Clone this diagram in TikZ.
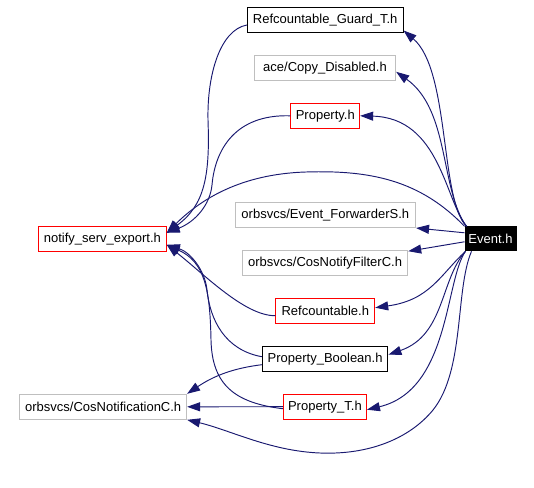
\documentclass[tikz,border=0pt]{standalone}
\usepackage{fontspec}
\setmainfont{Liberation Sans}
\usetikzlibrary{arrows.meta}
\definecolor{edgeblue}{RGB}{25,25,112}
\definecolor{boxgray}{RGB}{191,191,191}
\begin{document}
\begin{tikzpicture}[x=1pt,y=-1pt,
  box/.style={draw,line width=1pt,inner sep=0pt,minimum height=25pt,font=\fontsize{13}{15}\selectfont},
  blackbox/.style={box,draw=black},
  redbox/.style={box,draw=red},
  graybox/.style={box,draw=boxgray},
  focusbox/.style={box,draw=black,fill=black,text=white,minimum height=24pt},
  dep/.style={draw=edgeblue,line width=0.95pt,-{Triangle[length=13pt,width=9pt]}}
]
\useasboundingbox (0,0) rectangle (534,487);

\node[blackbox,minimum width=155.7pt] (RGT) at (325.2,20) {Refcountable\_Guard\_T.h};
\node[graybox,minimum width=141.3pt] (CD) at (325,67.8) {ace/Copy\_Disabled.h};
\node[redbox,minimum width=68.7pt] (P) at (325.3,115.8) {Property.h};
\node[redbox,minimum width=127.7pt] (NSE) at (102.4,238.8) {notify\_serv\_export.h};
\node[graybox,minimum width=180.5pt] (EF) at (325.3,215) {orbsvcs/Event\_ForwarderS.h};
\node[graybox,minimum width=165.2pt] (CNF) at (325.1,262.7) {orbsvcs/CosNotifyFilterC.h};
\node[focusbox,minimum width=51pt] (E) at (490.5,238.8) {Event.h};
\node[redbox,minimum width=98.8pt] (R) at (325.3,310.7) {Refcountable.h};
\node[blackbox,minimum width=125.6pt] (PB) at (325.1,358.7) {Property\_Boolean.h};
\node[graybox,minimum width=166.8pt] (CN) at (103.2,406.8) {orbsvcs/CosNotificationC.h};
\node[redbox,minimum width=83.1pt] (PT) at (324.9,406.7) {Property\_T.h};

% Event.h dependencies
\draw[dep] ([xshift=2pt]E.north west) .. controls (440,200) and (450,70) .. ([yshift=2.5pt]RGT.south east);
\draw[dep] ([xshift=2pt]E.north west) .. controls (440,190) and (450,110) .. ([yshift=9pt]CD.south east);
\draw[dep] ([xshift=2pt]E.north west) .. controls (445,200) and (440,118) .. (P.east);
\draw[dep] (E.north west) .. controls (420,180) and (370,170) .. (306,172)
  .. controls (240,174) and (200,200) .. ([yshift=6pt]NSE.east);
\draw[dep] ([yshift=6pt]E.west) -- (EF.south east);
\draw[dep] ([yshift=-3pt]E.west) -- ([yshift=-1.5pt]CNF.north east);
\draw[dep] ([xshift=1pt]E.south west) .. controls (440,275) and (430,300) .. ([yshift=3pt]R.east);
\draw[dep] ([xshift=1pt]E.south west) .. controls (440,280) and (445,335) .. ([yshift=4pt]PB.east);
\draw[dep] ([xshift=1pt]E.south west) .. controls (445,280) and (450,390) .. ([yshift=-3pt]PT.east);
\draw[dep] ([xshift=7pt]E.south west) .. controls (455,290) and (465,370) .. (433,410)
  .. controls (410,438) and (370,455) .. (320,453)
  .. controls (270,451) and (230,430) .. (CN.south east);

% to notify_serv_export.h
\draw[dep] ([yshift=-5pt]RGT.west) .. controls (220,30) and (207,75) .. (208,120)
  .. controls (210,175) and (205,205) .. ([yshift=6pt]NSE.east);
\draw[dep] (P.west) .. controls (235,114) and (215,150) .. (212,185)
  .. controls (210,205) and (195,222) .. ([yshift=6pt]NSE.east);
\draw[dep] ([yshift=-5pt]R.west) .. controls (245,316) and (205,275) .. ([yshift=-6pt]NSE.east);
\draw[dep] ([yshift=2pt]PB.west) .. controls (225,350) and (210,320) .. (207,290)
  .. controls (205,270) and (190,252) .. ([yshift=-6pt]NSE.east);
\draw[dep] ([yshift=-2pt]PT.west) .. controls (235,403) and (212,385) .. (211,340)
  .. controls (210,290) and (205,262) .. ([yshift=-6pt]NSE.east);

% to orbsvcs/CosNotificationC.h
\draw[dep] ([yshift=-6pt]PB.west) .. controls (235,368) and (215,375) .. (CN.north east);
\draw[dep] (PT.west) -- (CN.east);
\end{tikzpicture}
\end{document}
